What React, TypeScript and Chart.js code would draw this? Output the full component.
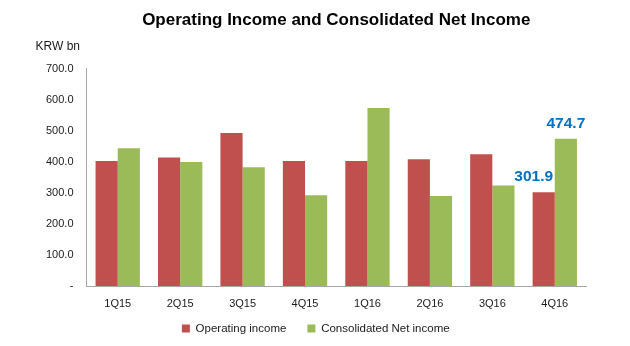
import React, { useEffect, useRef } from "react";
import { Chart, registerables } from "chart.js";

Chart.register(...registerables);

const categories = ["1Q15", "2Q15", "3Q15", "4Q15", "1Q16", "2Q16", "3Q16", "4Q16"];
const operatingIncome = [403, 414, 493, 403, 403, 409, 425, 301.9];
const consolidatedNetIncome = [444, 400, 383, 293, 574, 290, 324, 474.7];
const yTickLabels = ["-", "100.0", "200.0", "300.0", "400.0", "500.0", "600.0", "700.0"];
const seriesNames = ["Operating income", "Consolidated Net income"];
const titleText = "Operating Income and Consolidated Net Income";
const unitText = "KRW bn";
// which bars carry a value label: [datasetIndex, categoryIndex]
const labeledBars: [number, number][] = [[0, 7], [1, 7]];
const labelShiftX = [-10, 0];

const FONT = "'Liberation Sans', Arial, sans-serif";

const extrasPlugin = {
  id: "extras",
  afterLayout(chart: any) {
    // let x tick labels extend past the (shrunk) scale box without clipping
    const x = chart.scales.x;
    x.bottom = x.top + 30;
  },
  afterDraw(chart: any) {
    const ctx = chart.ctx;
    const area = chart.chartArea;
    ctx.save();
    ctx.font = `12px ${FONT}`;
    ctx.fillStyle = "#1a1a1a";
    ctx.textAlign = "right";
    ctx.textBaseline = "middle";
    ctx.fillText(unitText, area.left - 6.5, area.top - 22);

    ctx.font = `bold 15.5px ${FONT}`;
    ctx.fillStyle = "#0070C0";
    ctx.textAlign = "center";
    labeledBars.forEach(([ds, idx], k) => {
      const el = chart.getDatasetMeta(ds).data[idx];
      const v = chart.data.datasets[ds].data[idx] as number;
      ctx.fillText(v.toFixed(1), el.x + labelShiftX[k], el.y - 15.5);
    });
    ctx.restore();
  },
};

export default function App() {
  const ref = useRef<HTMLCanvasElement>(null);
  useEffect(() => {
    if (!ref.current) return;
    const chart = new Chart(ref.current, {
      type: "bar",
      data: {
        labels: categories,
        datasets: [
          {
            label: seriesNames[0],
            data: operatingIncome,
            backgroundColor: "#C0504D",
            categoryPercentage: 0.71,
            barPercentage: 1,
          },
          {
            label: seriesNames[1],
            data: consolidatedNetIncome,
            backgroundColor: "#9BBB59",
            categoryPercentage: 0.71,
            barPercentage: 1,
          },
        ],
      },
      options: {
        responsive: false,
        animation: false,
        layout: { padding: { left: 45.5, right: 44, top: 0, bottom: 1.75 } },
        plugins: {
          title: {
            display: true,
            text: titleText,
            fullSize: false,
            color: "#000",
            font: { family: FONT, size: 17, weight: "bold" },
            padding: { top: 10, bottom: 38.5 },
          },
          legend: {
            position: "bottom",
            labels: {
              boxWidth: 8,
              boxHeight: 8,
              padding: 21,
              color: "#1a1a1a",
              font: { family: FONT, size: 11.5 },
            },
          },
          tooltip: { enabled: false },
        },
        scales: {
          x: {
            grid: { display: false, drawTicks: false },
            border: { display: true, color: "#A6A6A6", width: 1 },
            ticks: { color: "#1a1a1a", padding: 11.5, font: { family: FONT, size: 11 } },
            afterFit: (s: any) => {
              s.height = 15.75;
            },
          },
          y: {
            min: 0,
            max: 700,
            grid: { display: false, drawTicks: false },
            border: { display: true, color: "#A6A6A6", width: 1 },
            ticks: {
              stepSize: 100,
              color: "#1a1a1a",
              padding: 13,
              font: { family: FONT, size: 11 },
              callback: (_v: any, i: number) => yTickLabels[i],
            },
            afterFit: (s: any) => {
              s.width = 41;
            },
          },
        },
      },
      plugins: [extrasPlugin],
    });
    return () => chart.destroy();
  }, []);
  return (
    <div style={{ position: "absolute", left: 0, top: 0, width: 630, height: 346, background: "#fff" }}>
      <canvas ref={ref} width={630} height={346} style={{ width: 630, height: 346 }} />
    </div>
  );
}
